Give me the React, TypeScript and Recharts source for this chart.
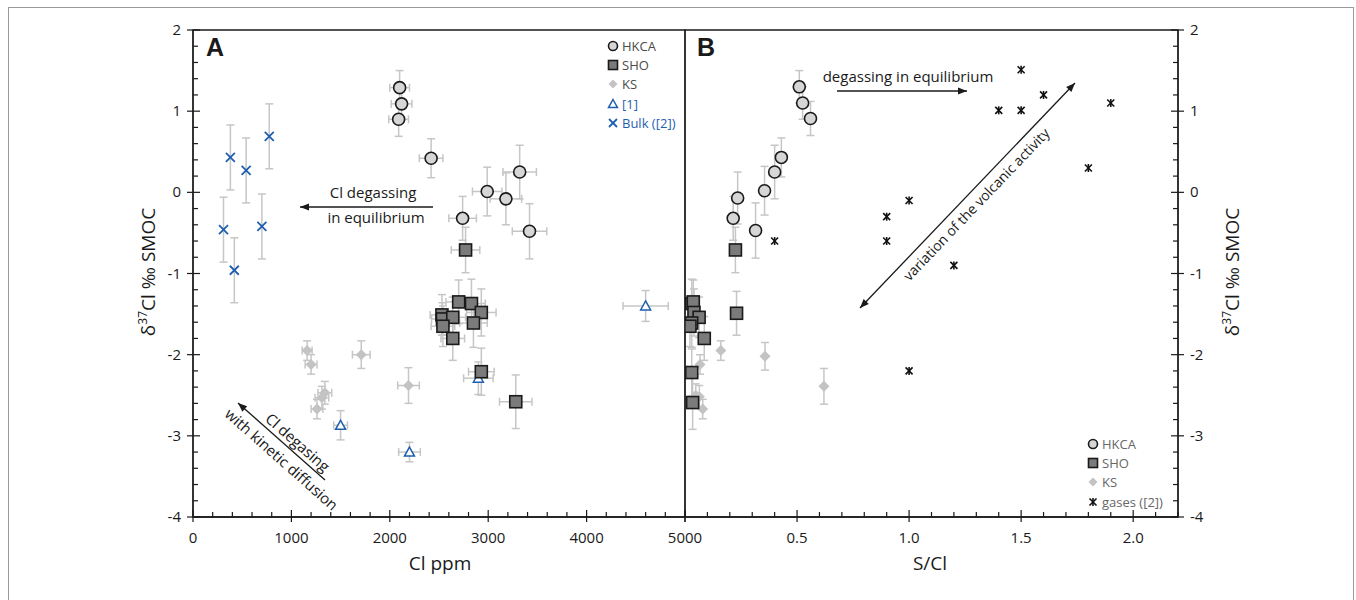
import React from 'react';
import { ScatterChart, Scatter, XAxis, YAxis, ErrorBar, ReferenceArea, Legend } from 'recharts';

type Pt = { x: number; y: number; ex?: number; ey?: number };

// ---- panel A : Cl (ppm) vs d37Cl ----
const hkcaA: Pt[] = [
  { x: 2100, y: 1.29, ex: 100, ey: 0.21 },
  { x: 2120, y: 1.09, ex: 105, ey: 0.2 },
  { x: 2090, y: 0.9, ex: 100, ey: 0.21 },
  { x: 2420, y: 0.42, ex: 120, ey: 0.24 },
  { x: 2990, y: 0.01, ex: 150, ey: 0.3 },
  { x: 2740, y: -0.32, ex: 140, ey: 0.27 },
  { x: 3320, y: 0.25, ex: 170, ey: 0.33 },
  { x: 3180, y: -0.08, ex: 160, ey: 0.32 },
  { x: 3420, y: -0.48, ex: 175, ey: 0.34 },
];
const shoA: Pt[] = [
  { x: 2770, y: -0.71, ex: 145, ey: 0.28 },
  { x: 2700, y: -1.35, ex: 130, ey: 0.27 },
  { x: 2830, y: -1.37, ex: 140, ey: 0.3 },
  { x: 2930, y: -1.48, ex: 150, ey: 0.29 },
  { x: 2530, y: -1.51, ex: 120, ey: 0.25 },
  { x: 2535, y: -1.56, ex: 110, ey: 0.2 },
  { x: 2640, y: -1.54, ex: 130, ey: 0.25 },
  { x: 2540, y: -1.65, ex: 120, ey: 0.25 },
  { x: 2850, y: -1.61, ex: 140, ey: 0.3 },
  { x: 2640, y: -1.8, ex: 120, ey: 0.27 },
  { x: 2930, y: -2.21, ex: 130, ey: 0.29 },
  { x: 3280, y: -2.58, ex: 165, ey: 0.33 },
];
const ksA: Pt[] = [
  { x: 1160, y: -1.95, ex: 50, ey: 0.12 },
  { x: 1200, y: -2.12, ex: 60, ey: 0.12 },
  { x: 1710, y: -2.0, ex: 90, ey: 0.17 },
  { x: 1340, y: -2.47, ex: 70, ey: 0.14 },
  { x: 1310, y: -2.53, ex: 70, ey: 0.14 },
  { x: 1260, y: -2.67, ex: 60, ey: 0.12 },
  { x: 2190, y: -2.38, ex: 110, ey: 0.22 },
];
const ref1A: Pt[] = [
  { x: 1500, y: -2.87, ex: 70, ey: 0.18 },
  { x: 2200, y: -3.2, ex: 110, ey: 0.12 },
  { x: 2900, y: -2.29, ex: 150, ey: 0.2 },
  { x: 4600, y: -1.4, ex: 230, ey: 0.19 },
];
const bulkA: Pt[] = [
  { x: 380, y: 0.43, ey: 0.4 },
  { x: 540, y: 0.27, ey: 0.4 },
  { x: 775, y: 0.69, ey: 0.4 },
  { x: 310, y: -0.46, ey: 0.4 },
  { x: 700, y: -0.42, ey: 0.4 },
  { x: 420, y: -0.96, ey: 0.4 },
];

// ---- panel B : S/Cl vs d37Cl ----
const hkcaB: Pt[] = [
  { x: 0.51, y: 1.3, ey: 0.2 },
  { x: 0.525, y: 1.1, ey: 0.2 },
  { x: 0.56, y: 0.91, ey: 0.21 },
  { x: 0.43, y: 0.43, ey: 0.24 },
  { x: 0.4, y: 0.25, ey: 0.33 },
  { x: 0.355, y: 0.02, ey: 0.3 },
  { x: 0.235, y: -0.07, ey: 0.32 },
  { x: 0.215, y: -0.32, ey: 0.27 },
  { x: 0.315, y: -0.47, ey: 0.34 },
];
const shoB: Pt[] = [
  { x: 0.225, y: -0.71, ey: 0.28 },
  { x: 0.23, y: -1.49, ey: 0.27 },
  { x: 0.03, y: -1.37, ey: 0.3 },
  { x: 0.037, y: -1.35, ey: 0.27 },
  { x: 0.04, y: -1.48, ey: 0.29 },
  { x: 0.063, y: -1.54, ey: 0.25 },
  { x: 0.03, y: -1.61, ey: 0.3 },
  { x: 0.022, y: -1.65, ey: 0.25 },
  { x: 0.086, y: -1.8, ey: 0.27 },
  { x: 0.03, y: -2.22, ey: 0.29 },
  { x: 0.034, y: -2.59, ey: 0.33 },
];
const ksB: Pt[] = [
  { x: 0.16, y: -1.95, ey: 0.12 },
  { x: 0.357, y: -2.02, ey: 0.17 },
  { x: 0.067, y: -2.12, ey: 0.12 },
  { x: 0.048, y: -2.5, ey: 0.14 },
  { x: 0.064, y: -2.52, ey: 0.14 },
  { x: 0.079, y: -2.67, ey: 0.12 },
  { x: 0.62, y: -2.39, ey: 0.22 },
];
const gasesB: Pt[] = [
  { x: 0.4, y: -0.6 },
  { x: 0.9, y: -0.3 },
  { x: 0.9, y: -0.6 },
  { x: 1.0, y: -0.1 },
  { x: 1.2, y: -0.9 },
  { x: 1.4, y: 1.01 },
  { x: 1.5, y: 1.51 },
  { x: 1.6, y: 1.2 },
  { x: 1.5, y: 1.01 },
  { x: 1.9, y: 1.1 },
  { x: 1.8, y: 0.3 },
  { x: 1.0, y: -2.2 },
];

// ---- ticks ----
const yMajor = [-4, -3, -2, -1, 0, 1, 2];
const xMajorA = [0, 1000, 2000, 3000, 4000, 5000];
const xMajorB = [0, 0.5, 1, 1.5, 2];
const xLabelsB = [0.5, 1, 1.5, 2];

const steps = (a: number, b: number, s: number) => {
  const out: number[] = [];
  const n = Math.round((b - a) / s);
  for (let i = 0; i <= n; i++) out.push(Math.round((a + i * s) * 1000) / 1000);
  return out;
};
const yTicks = steps(-4, 2, 0.2);
const xTicksA = steps(0, 5000, 200);
const xTicksB = steps(0, 2.2, 0.1);
const has = (arr: number[], v: number) => arr.some((m) => Math.abs(m - v) < 1e-6);

const BLACK = '#1a1a1a';
const ERR = '#c6c6c6';
const BLUE = '#1f5fae';
const FONT = '"Open Sans", "Noto Sans", sans-serif';

// ---- markers ----
const circle = (cx: number, cy: number, r = 6) => (
  <circle cx={cx} cy={cy} r={r} fill="#d6d6d6" stroke={BLACK} strokeWidth={1.6} />
);
const square = (cx: number, cy: number, h = 6) => (
  <rect x={cx - h} y={cy - h} width={h * 2} height={h * 2} fill="#7b7b7b" stroke={BLACK} strokeWidth={1.6} />
);
const diamond = (cx: number, cy: number, h = 5.5) => (
  <polygon points={`${cx},${cy - h} ${cx + h},${cy} ${cx},${cy + h} ${cx - h},${cy}`} fill="#c3c3c3" />
);
const triangle = (cx: number, cy: number, h = 5) => (
  <polygon points={`${cx},${cy - h} ${cx + h},${cy + h * 0.8} ${cx - h},${cy + h * 0.8}`} fill="#fff" stroke={BLUE} strokeWidth={1.5} />
);
const cross = (cx: number, cy: number, h = 4.5) => (
  <g stroke={BLUE} strokeWidth={1.8}>
    <line x1={cx - h} y1={cy - h} x2={cx + h} y2={cy + h} />
    <line x1={cx - h} y1={cy + h} x2={cx + h} y2={cy - h} />
  </g>
);
const star = (cx: number, cy: number, h = 3.5) => (
  <g stroke="#111" strokeWidth={1.6}>
    <line x1={cx - h} y1={cy - h} x2={cx + h} y2={cy + h} />
    <line x1={cx - h} y1={cy + h} x2={cx + h} y2={cy - h} />
    <line x1={cx} y1={cy - h - 0.5} x2={cx} y2={cy + h + 0.5} />
  </g>
);
const shapeOf = (fn: (cx: number, cy: number) => React.ReactElement) => (p: any) => fn(p.cx, p.cy);

// ---- axis ticks ----
function BottomTick(props: any) {
  const { x, y, payload, majors, labels, fmt } = props;
  const v = payload.value;
  const major = has(majors, v);
  return (
    <g>
      <line x1={x} x2={x} y1={y - (major ? 7 : 5)} y2={y + (major ? 5 : 0)} stroke={BLACK} strokeWidth={1.2} />
      {has(labels, v) && (
        <text x={x} y={y + 26} textAnchor="middle" fontSize={15} fontFamily={FONT} fill={BLACK}>
          {fmt(v)}
        </text>
      )}
    </g>
  );
}
function SideTick(props: any) {
  const { x, y, payload, side } = props;
  const v = payload.value;
  const major = has(yMajor, v);
  const s = side === 'left' ? 1 : -1; // direction into the plot
  return (
    <g>
      <line x1={x - s * (major ? 6 : 0)} x2={x + s * (major ? 7 : 5)} y1={y} y2={y} stroke={BLACK} strokeWidth={1.2} />
      {major && (
        <text x={x - s * 12} y={y + 5} textAnchor={side === 'left' ? 'end' : 'start'} fontSize={15} fontFamily={FONT} fill={BLACK}>
          {v}
        </text>
      )}
    </g>
  );
}

// ---- annotation helpers ----
function Arrow({ x1, y1, x2, y2, both }: { x1: number; y1: number; x2: number; y2: number; both?: boolean }) {
  const head = (tx: number, ty: number, fx: number, fy: number) => {
    const a = Math.atan2(ty - fy, tx - fx);
    const L = 9, w = 3.6;
    const bx = tx - L * Math.cos(a), by = ty - L * Math.sin(a);
    return (
      <polygon
        points={`${tx},${ty} ${bx + w * Math.sin(a)},${by - w * Math.cos(a)} ${bx - w * Math.sin(a)},${by + w * Math.cos(a)}`}
        fill={BLACK}
      />
    );
  };
  return (
    <g>
      <line x1={x1} y1={y1} x2={x2} y2={y2} stroke={BLACK} strokeWidth={1.3} />
      {head(x2, y2, x1, y1)}
      {both && head(x1, y1, x2, y2)}
    </g>
  );
}
const Note = ({ x, y, angle = 0, children, size = 15 }: any) => (
  <text
    transform={`translate(${x},${y}) rotate(${angle})`}
    textAnchor="middle"
    dominantBaseline="central"
    fontSize={size}
    fontFamily={FONT}
    fill={BLACK}
  >
    {children}
  </text>
);
const YTitle = ({ x, y }: { x: number; y: number }) => (
  <text transform={`translate(${x},${y}) rotate(-90)`} textAnchor="middle" y={7} fontSize={19} fontFamily={FONT} fill={BLACK}>
    δ<tspan dy={-8} fontSize={12}>37</tspan>
    <tspan dy={8}>Cl ‰ SMOC</tspan>
  </text>
);

type Item = { label: string; color: string; icon: (cx: number, cy: number) => React.ReactElement };
const legendA: Item[] = [
  { label: 'HKCA', color: '#4a4a4a', icon: (cx, cy) => circle(cx, cy, 4.5) },
  { label: 'SHO', color: '#4a4a4a', icon: (cx, cy) => square(cx, cy, 4.5) },
  { label: 'KS', color: '#4a4a4a', icon: (cx, cy) => diamond(cx, cy, 4.5) },
  { label: '[1]', color: BLUE, icon: (cx, cy) => triangle(cx, cy, 4.5) },
  { label: 'Bulk ([2])', color: BLUE, icon: (cx, cy) => cross(cx, cy, 4) },
];
const legendB: Item[] = [
  { label: 'HKCA', color: '#666', icon: (cx, cy) => circle(cx, cy, 4.5) },
  { label: 'SHO', color: '#666', icon: (cx, cy) => square(cx, cy, 4.5) },
  { label: 'KS', color: '#666', icon: (cx, cy) => diamond(cx, cy, 4.5) },
  { label: 'gases ([2])', color: '#666', icon: (cx, cy) => star(cx, cy, 3.5) },
];
function LegendBox({ items }: { items: Item[] }) {
  return (
    <div style={{ fontFamily: FONT, fontSize: 13 }}>
      {items.map((it) => (
        <div key={it.label} style={{ display: 'flex', alignItems: 'center', height: 19.4, color: it.color, whiteSpace: 'nowrap' }}>
          <svg width={12} height={12} style={{ marginRight: 3 }}>
            {it.icon(6, 6)}
          </svg>
          {it.label}
        </div>
      ))}
    </div>
  );
}

const errX = (key: string) => <ErrorBar dataKey={key} direction="x" stroke={ERR} strokeWidth={1.5} width={4} />;
const errY = (key: string) => <ErrorBar dataKey={key} direction="y" stroke={ERR} strokeWidth={1.5} width={4} />;

export default function App() {
  const H = 600;
  return (
    <div style={{ position: 'fixed', left: 0, top: 0, width: 1356, height: 600, overflow: 'hidden', background: '#fff', fontFamily: FONT }}>
      <div style={{ position: 'absolute', left: 8, top: 7, width: 1344, height: 650, border: '1px solid #9a9a9a' }} />

      {/* panel B first, so panel A's "5000" label sits on top */}
      <div style={{ position: 'absolute', left: 680, top: 0 }}>
        <ScatterChart width={676} height={H} margin={{ top: 30, right: 108, bottom: 23, left: 5 }}>
          <XAxis
            type="number"
            dataKey="x"
            domain={[0, 2.2]}
            ticks={xTicksB}
            interval={0}
            allowDataOverflow
            height={60}
            tickSize={0}
            tickMargin={0}
            tickLine={false}
            axisLine={{ stroke: BLACK, strokeWidth: 1.3 }}
            tick={(p: any) => <BottomTick {...p} majors={xMajorB} labels={xLabelsB} fmt={(v: number) => v.toFixed(1)} />}
          />
          <YAxis
            type="number"
            dataKey="y"
            orientation="right"
            domain={[-4, 2]}
            ticks={yTicks}
            interval={0}
            allowDataOverflow
            width={70}
            tickSize={0}
            tickMargin={0}
            tickLine={false}
            axisLine={{ stroke: BLACK, strokeWidth: 1.3 }}
            tick={(p: any) => <SideTick {...p} side="right" />}
          />
          <ReferenceArea x1={0} x2={2.2} y1={-4} y2={2} fill="none" stroke={BLACK} strokeWidth={1.3} ifOverflow="visible" />
          <Legend
            layout="vertical"
            align="center"
            verticalAlign="middle"
            wrapperStyle={{ left: 407, top: 434, width: 'auto' }}
            content={() => <LegendBox items={legendB} />}
          />
          <Scatter name="KS" data={ksB} shape={shapeOf(diamond)} isAnimationActive={false}>
            {errY('ey')}
          </Scatter>
          <Scatter name="HKCA" data={hkcaB} shape={shapeOf(circle)} isAnimationActive={false}>
            {errY('ey')}
          </Scatter>
          <Scatter name="SHO" data={shoB} shape={shapeOf(square)} isAnimationActive={false}>
            {errY('ey')}
          </Scatter>
          <Scatter name="gases ([2])" data={gasesB} shape={shapeOf(star)} isAnimationActive={false} />

          <text x={17} y={56} fontSize={25} fontWeight="bold" fontFamily='"Liberation Sans", Arial, sans-serif' fill={BLACK}>
            B
          </text>
          <Note x={228} y={76}>degassing in equilibrium</Note>
          <Arrow x1={157} y1={91} x2={287} y2={91} />
          <Arrow x1={180} y1={308} x2={395} y2={83} both />
          <Note x={296} y={204} angle={-46.3} size={14}>variation of the volcanic activity</Note>
          <text x={250} y={570} textAnchor="middle" fontSize={19} fontFamily={FONT} fill={BLACK}>
            S/Cl
          </text>
          <YTitle x={552} y={272} />
        </ScatterChart>
      </div>

      {/* panel A */}
      <div style={{ position: 'absolute', left: 0, top: 0, pointerEvents: 'none' }}>
        <ScatterChart width={720} height={H} margin={{ top: 30, right: 35, bottom: 23, left: 123 }}>
          <XAxis
            type="number"
            dataKey="x"
            domain={[0, 5000]}
            ticks={xTicksA}
            interval={0}
            allowDataOverflow
            height={60}
            tickSize={0}
            tickMargin={0}
            tickLine={false}
            axisLine={{ stroke: BLACK, strokeWidth: 1.3 }}
            tick={(p: any) => <BottomTick {...p} majors={xMajorA} labels={xMajorA} fmt={(v: number) => String(v)} />}
          />
          <YAxis
            type="number"
            dataKey="y"
            domain={[-4, 2]}
            ticks={yTicks}
            interval={0}
            allowDataOverflow
            width={70}
            tickSize={0}
            tickMargin={0}
            tickLine={false}
            axisLine={{ stroke: BLACK, strokeWidth: 1.3 }}
            tick={(p: any) => <SideTick {...p} side="left" />}
          />
          <ReferenceArea x1={0} x2={5000} y1={-4} y2={2} fill="none" stroke={BLACK} strokeWidth={1.3} ifOverflow="visible" />
          <Legend
            layout="vertical"
            align="center"
            verticalAlign="middle"
            wrapperStyle={{ left: 607, top: 36, width: 'auto' }}
            content={() => <LegendBox items={legendA} />}
          />
          <Scatter name="KS" data={ksA} shape={shapeOf(diamond)} isAnimationActive={false}>
            {errX('ex')}
            {errY('ey')}
          </Scatter>
          <Scatter name="[1]" data={ref1A} shape={shapeOf(triangle)} isAnimationActive={false}>
            {errX('ex')}
            {errY('ey')}
          </Scatter>
          <Scatter name="Bulk ([2])" data={bulkA} shape={shapeOf(cross)} isAnimationActive={false}>
            {errY('ey')}
          </Scatter>
          <Scatter name="HKCA" data={hkcaA} shape={shapeOf(circle)} isAnimationActive={false}>
            {errX('ex')}
            {errY('ey')}
          </Scatter>
          <Scatter name="SHO" data={shoA} shape={shapeOf(square)} isAnimationActive={false}>
            {errX('ex')}
            {errY('ey')}
          </Scatter>

          <text x={206} y={56} fontSize={25} fontWeight="bold" fontFamily='"Liberation Sans", Arial, sans-serif' fill={BLACK}>
            A
          </text>
          <Note x={373} y={192}>Cl degassing</Note>
          <Note x={376} y={217}>in equilibrium</Note>
          <Arrow x1={433} y1={207} x2={300} y2={207} />
          <Arrow x1={325} y1={480} x2={238} y2={403} />
          <Note x={298} y={442} angle={41.5}>Cl degasing</Note>
          <Note x={282} y={459} angle={41.5}>with kinetic diffusion</Note>
          <text x={440} y={570} textAnchor="middle" fontSize={19} fontFamily={FONT} fill={BLACK}>
            Cl ppm
          </text>
          <YTitle x={148} y={272} />
        </ScatterChart>
      </div>
    </div>
  );
}
